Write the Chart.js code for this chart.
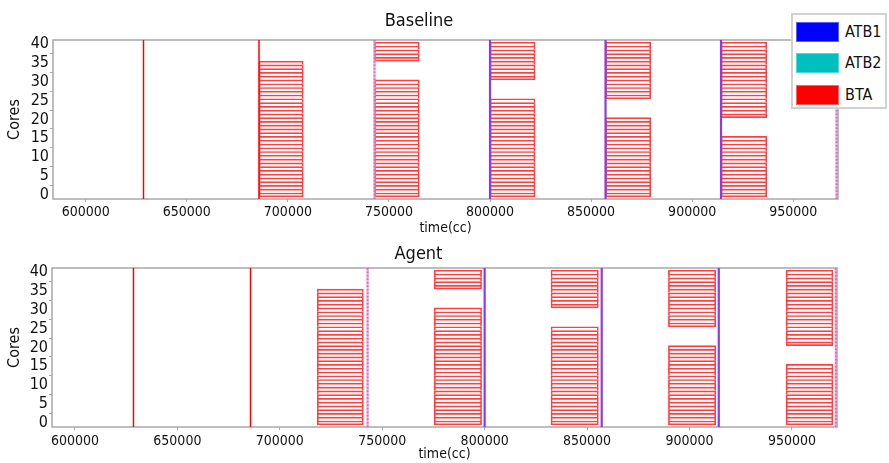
<!DOCTYPE html>
<html>
<head>
<meta charset="utf-8">
<title>Baseline vs Agent</title>
<script src="https://cdn.jsdelivr.net/npm/chart.js"></script>
<style>
  body { margin: 0; background: #fff; }
  #wrap { position: relative; width: 889px; height: 463px; }
  #wrap canvas { position: absolute; left: 0; top: 0; }
  .legend { position: absolute; left: 791px; top: 13px; width: 92px; height: 92px; border: 2px solid #d2d2d2; background: #fff;
            font: 16px "DejaVu Sans Condensed", "DejaVu Sans", sans-serif; color: #111; }
  .legend .row { position: absolute; left: 3px; height: 20px; line-height: 20px; white-space: nowrap; }
  .legend .patch { position: absolute; left: 0; top: 0; width: 41px; height: 18px; border: 1px solid; }
  .legend .label { position: absolute; left: 49px; top: 0; }
</style>
</head>
<body>
<div id="wrap">
  <canvas id="baseline" width="889" height="463"></canvas>
  <canvas id="agent" width="889" height="463"></canvas>
  <div class="legend">
    <div class="row" style="top:7px"><span class="patch" style="background:#0000ff;border-color:#5560ff"></span><span class="label">ATB1</span></div>
    <div class="row" style="top:38px"><span class="patch" style="background:#00bfbf;border-color:#55d6d6"></span><span class="label">ATB2</span></div>
    <div class="row" style="top:70px"><span class="patch" style="background:#ff0000;border-color:#ff6060"></span><span class="label">BTA</span></div>
  </div>
</div>
<script>
const FONT = '"DejaVu Sans Condensed", "DejaVu Sans", sans-serif';

const xTicks = [600000, 650000, 700000, 750000, 800000, 850000, 900000, 950000];
const yTicks = [0, 5, 10, 15, 20, 25, 30, 35, 40];

// BTA hits on every core (zero length), drawn as full-height lines
const btaMarks = [628571, 685714];
// ATB sync points: solid ones and the dotted ones
const atbMarks = [800000, 857143, 914286];
const atbDotMarks = [742857, 971429];

// Baseline BTA windows (one entry per block of cores)
const baseStart = [685714, 742857, 742857, 800000, 800000, 857143, 857143, 914286, 914286];
const baseEnd = [707600, 765000, 765000, 822300, 822300, 879500, 879500, 936900, 936900];
const baseCoreFrom = [0, 36, 0, 31, 0, 26, 0, 21, 0];
const baseCoreTo = [35, 40, 30, 40, 25, 40, 20, 40, 15];

// Agent BTA windows
const agentStart = [718300, 775400, 775400, 832400, 832400, 889700, 889700, 947200, 947200];
const agentEnd = [740800, 798500, 798500, 855500, 855500, 912800, 912800, 970000, 970000];
const agentCoreFrom = [0, 36, 0, 31, 0, 26, 0, 21, 0];
const agentCoreTo = [35, 40, 30, 40, 25, 40, 20, 40, 15];

const Y_MIN = -1.1;
const Y_MAX = 41.1;

// one floating bar per core
function barRows(start, end, from, to) {
  const rows = [];
  start.forEach((s, i) => {
    for (let c = from[i]; c <= to[i]; c++) {
      rows.push({ x: [s, end[i]], y: c, first: c === from[i] });
    }
  });
  return rows;
}

function vline(t, color, width, dash) {
  return {
    type: 'line',
    data: [{ x: t, y: Y_MIN }, { x: t, y: Y_MAX }],
    borderColor: color,
    borderWidth: width,
    borderDash: dash || [],
    pointRadius: 0,
    order: 0,
  };
}

const frame = {
  id: 'frame',
  beforeDatasetsDraw(chart) {
    const { ctx, chartArea: a } = chart;
    ctx.save();
    ctx.strokeStyle = '#a8a8a8';
    ctx.lineWidth = 1.5;
    ctx.strokeRect(a.left, a.top, a.right - a.left, a.bottom - a.top);
    ctx.restore();
  },
};

function makeChart(id, cfg) {
  const datasets = [
    {
      type: 'bar',
      label: 'BTA',
      data: barRows(cfg.start, cfg.end, cfg.from, cfg.to),
      backgroundColor: 'rgba(0,0,0,0)',
      borderColor: 'rgba(255,0,0,0.75)',
      borderWidth: (ctx) => ({ top: 1, left: 1, right: 1, bottom: ctx.raw && ctx.raw.first ? 1 : 0 }),
      borderSkipped: false,
      barPercentage: 1,
      categoryPercentage: 1,
      order: 1,
    },
  ];
  btaMarks.forEach((t) => datasets.push(vline(t, '#ff0000', 1.5)));
  atbMarks.forEach((t) => datasets.push(vline(t, '#8a3be2', 2.2)));
  atbDotMarks.forEach((t) => {
    datasets.push(vline(t, 'rgba(240,140,190,0.7)', 2.4));
    datasets.push(vline(t, 'rgba(100,40,255,1)', 1.6, [1.5, 2]));
  });

  return new Chart(document.getElementById(id), {
    type: 'bar',
    data: { datasets },
    plugins: [frame],
    options: {
      responsive: false,
      animation: false,
      indexAxis: 'y',
      layout: { padding: cfg.pad },
      plugins: {
        legend: { display: false },
        tooltip: { enabled: false },
        title: {
          display: true,
          text: cfg.title,
          color: '#111',
          font: { family: FONT, size: 18, weight: 'normal' },
          padding: cfg.titlePad,
        },
      },
      scales: {
        x: {
          type: 'linear',
          min: cfg.xMin,
          max: cfg.xMax,
          offset: false,
          beginAtZero: false,
          afterFit: (s) => { s.height = cfg.xHeight; },
          afterBuildTicks: (s) => { s.ticks = xTicks.map((v) => ({ value: v })); },
          grid: { drawOnChartArea: false, drawTicks: true, tickLength: 3, tickColor: '#a8a8a8' },
          border: { display: false },
          ticks: {
            color: '#111',
            padding: cfg.xTickPad,
            maxRotation: 0,
            autoSkip: false,
            font: { family: FONT, size: 14 },
            callback: (v) => String(v),
          },
          title: {
            display: true,
            text: 'time(cc)',
            color: '#111',
            font: { family: FONT, size: 14 },
            padding: { top: 0, bottom: cfg.xTitlePad },
          },
        },
        y: {
          type: 'linear',
          min: Y_MIN,
          max: Y_MAX,
          offset: false,
          afterFit: (s) => { s.width = cfg.yWidth; },
          afterBuildTicks: (s) => { s.ticks = yTicks.map((v) => ({ value: v })); },
          grid: { drawOnChartArea: false, drawTicks: true, tickLength: 3, tickColor: '#a8a8a8' },
          border: { display: false },
          ticks: { color: '#111', padding: 1, autoSkip: false, font: { family: FONT, size: 16 } },
          title: {
            display: true,
            text: 'Cores',
            color: '#111',
            font: { family: FONT, size: 16 },
            padding: { top: 5, bottom: 0 },
          },
        },
      },
    },
  });
}

makeChart('baseline', {
  title: 'Baseline',
  start: baseStart, end: baseEnd, from: baseCoreFrom, to: baseCoreTo,
  xMin: 583800, xMax: 972150,
  pad: { left: 0, right: 51, top: 0, bottom: 226 },
  titlePad: { top: 10.6, bottom: 7.8 },
  xHeight: 38, xTickPad: 2, xTitlePad: 0, yWidth: 53,
});

makeChart('agent', {
  title: 'Agent',
  start: agentStart, end: agentEnd, from: agentCoreFrom, to: agentCoreTo,
  xMin: 588800, xMax: 972000,
  pad: { left: 0, right: 52, top: 230, bottom: 0 },
  titlePad: { top: 13.6, bottom: 2.8 },
  xHeight: 36, xTickPad: 3, xTitlePad: 0.6, yWidth: 52,
});
</script>
</body>
</html>
